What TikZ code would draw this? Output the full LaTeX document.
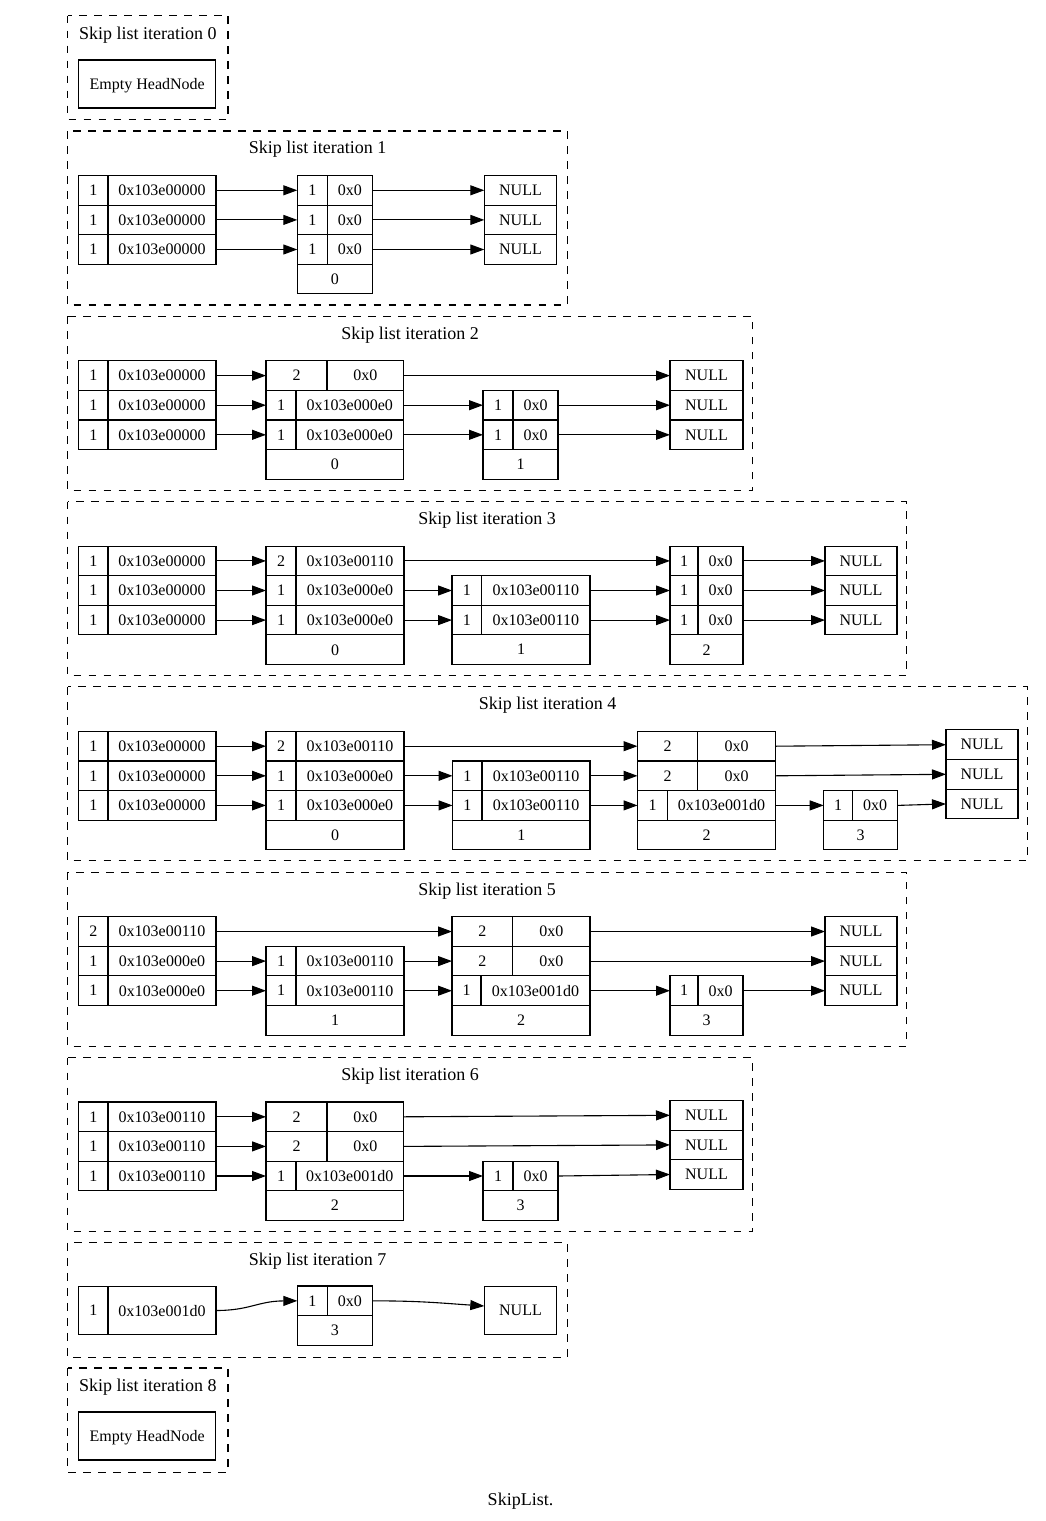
\documentclass[tikz,border=0pt]{standalone}
\usepackage{fontspec}
\setmainfont{Liberation Serif}
\usetikzlibrary{arrows.meta}
\tikzset{
 cellbox/.style={draw, line width=1.1pt, inner sep=0pt, outer sep=0pt, text depth=0pt, font=\fontsize{16}{19}\selectfont},
 clus/.style={draw, line width=1.1pt, dash pattern=on 7.7pt off 7.3pt},
 ttl/.style={anchor=base, inner sep=0pt, font=\fontsize{18}{21}\selectfont},
 lnk/.style={line width=1.1pt, -{Triangle[length=14pt,width=10pt]}}
}
\newcommand\mkc[6]{\node[cellbox,minimum width={#4-#2},minimum height={#5-#3}] (#1) at ({(#2+#4)/2},{(#3+#5)/2}) {#6};}
\newcommand\mkrow[8]{\mkc{#1L}{#2}{#5}{#3}{#6}{#7}\mkc{#1R}{#3}{#5}{#4}{#6}{#8}}
\newcommand\lnkar[2]{\draw[lnk] (#1.east) -- (#2.west);}
\begin{document}
\begin{tikzpicture}[x=1pt,y=-1pt]
\useasboundingbox (0,0) rectangle (1045,1521);
% ---------- iteration 0
\draw[clus] (67.5,15.5) rectangle (228,119.5);
\node[ttl] (t0) at (147.75,39.3) {Skip list iteration 0};
\mkc{e0}{78.8}{60}{215.7}{108}{Empty HeadNode}
% ---------- iteration 1
\draw[clus] (67.5,131) rectangle (567.5,305);
\node[ttl] (t1) at (317.5,153.8) {Skip list iteration 1};
\mkrow{h1a}{78.8}{108}{216}{175.5}{205.1}{1}{0x103e00000}
\mkrow{h1b}{78.8}{108}{216}{205.1}{234.7}{1}{0x103e00000}
\mkrow{h1c}{78.8}{108}{216}{234.7}{264.3}{1}{0x103e00000}
\mkrow{a1a}{297.3}{327.3}{372.3}{175.5}{205.1}{1}{0x0}
\mkrow{a1b}{297.3}{327.3}{372.3}{205.1}{234.7}{1}{0x0}
\mkrow{a1c}{297.3}{327.3}{372.3}{234.7}{264.3}{1}{0x0}
\mkc{a1d}{297.3}{264.3}{372.3}{293.9}{0}
\mkc{z1a}{484.3}{175.5}{556.7}{205.1}{NULL}
\mkc{z1b}{484.3}{205.1}{556.7}{234.7}{NULL}
\mkc{z1c}{484.3}{234.7}{556.7}{264.3}{NULL}
\lnkar{h1aR}{a1aL}\lnkar{h1bR}{a1bL}\lnkar{h1cR}{a1cL}
\lnkar{a1aR}{z1a}\lnkar{a1bR}{z1b}\lnkar{a1cR}{z1c}
% ---------- iteration 2
\draw[clus] (67.5,316.3) rectangle (752.5,490.3);
\node[ttl] (t2) at (410,339.1) {Skip list iteration 2};
\mkrow{h2a}{78.8}{108}{216}{360.8}{390.4}{1}{0x103e00000}
\mkrow{h2b}{78.8}{108}{216}{390.4}{420}{1}{0x103e00000}
\mkrow{h2c}{78.8}{108}{216}{420}{449.6}{1}{0x103e00000}
\mkrow{a2a}{266}{327}{403.5}{360.8}{390.4}{2}{0x0}
\mkrow{a2b}{266}{296}{403.5}{390.4}{420}{1}{0x103e000e0}
\mkrow{a2c}{266}{296}{403.5}{420}{449.6}{1}{0x103e000e0}
\mkc{a2d}{266}{449.6}{403.5}{479.2}{0}
\mkrow{b2b}{483}{513}{558}{390.4}{420}{1}{0x0}
\mkrow{b2c}{483}{513}{558}{420}{449.6}{1}{0x0}
\mkc{b2d}{483}{449.6}{558}{479.2}{1}
\mkc{z2a}{670}{360.8}{743}{390.4}{NULL}
\mkc{z2b}{670}{390.4}{743}{420}{NULL}
\mkc{z2c}{670}{420}{743}{449.6}{NULL}
\lnkar{h2aR}{a2aL}\lnkar{h2bR}{a2bL}\lnkar{h2cR}{a2cL}
\lnkar{a2aR}{z2a}\lnkar{a2bR}{b2bL}\lnkar{a2cR}{b2cL}
\lnkar{b2bR}{z2b}\lnkar{b2cR}{z2c}
% ---------- iteration 3
\draw[clus] (67.5,501.6) rectangle (906.5,675.6);
\node[ttl] (t3) at (487,524.4) {Skip list iteration 3};
\mkrow{h3a}{78.8}{108}{216}{546.1}{575.7}{1}{0x103e00000}
\mkrow{h3b}{78.8}{108}{216}{575.7}{605.3}{1}{0x103e00000}
\mkrow{h3c}{78.8}{108}{216}{605.3}{634.9}{1}{0x103e00000}
\mkrow{a3a}{266}{296}{404}{546.1}{575.7}{2}{0x103e00110}
\mkrow{a3b}{266}{296}{404}{575.7}{605.3}{1}{0x103e000e0}
\mkrow{a3c}{266}{296}{404}{605.3}{634.9}{1}{0x103e000e0}
\mkc{a3d}{266}{634.9}{404}{664.5}{0}
\mkrow{b3b}{452}{481.5}{590}{575.7}{605.3}{1}{0x103e00110}
\mkrow{b3c}{452}{481.5}{590}{605.3}{634.9}{1}{0x103e00110}
\mkc{b3d}{452}{634.9}{590}{664.5}{1}
\mkrow{c3a}{670}{698}{743}{546.1}{575.7}{1}{0x0}
\mkrow{c3b}{670}{698}{743}{575.7}{605.3}{1}{0x0}
\mkrow{c3c}{670}{698}{743}{605.3}{634.9}{1}{0x0}
\mkc{c3d}{670}{634.9}{743}{664.5}{2}
\mkc{z3a}{825}{546.1}{897}{575.7}{NULL}
\mkc{z3b}{825}{575.7}{897}{605.3}{NULL}
\mkc{z3c}{825}{605.3}{897}{634.9}{NULL}
\lnkar{h3aR}{a3aL}\lnkar{h3bR}{a3bL}\lnkar{h3cR}{a3cL}
\lnkar{a3aR}{c3aL}\lnkar{a3bR}{b3bL}\lnkar{a3cR}{b3cL}
\lnkar{b3bR}{c3bL}\lnkar{b3cR}{c3cL}
\lnkar{c3aR}{z3a}\lnkar{c3bR}{z3b}\lnkar{c3cR}{z3c}
% ---------- iteration 4
\draw[clus] (67.5,686.9) rectangle (1027.5,860.9);
\node[ttl] (t4) at (547.5,709.7) {Skip list iteration 4};
\mkrow{h4a}{78.8}{108}{216}{731.4}{761}{1}{0x103e00000}
\mkrow{h4b}{78.8}{108}{216}{761}{790.6}{1}{0x103e00000}
\mkrow{h4c}{78.8}{108}{216}{790.6}{820.2}{1}{0x103e00000}
\mkrow{a4a}{266}{296}{404}{731.4}{761}{2}{0x103e00110}
\mkrow{a4b}{266}{296}{404}{761}{790.6}{1}{0x103e000e0}
\mkrow{a4c}{266}{296}{404}{790.6}{820.2}{1}{0x103e000e0}
\mkc{a4d}{266}{820.2}{404}{849.8}{0}
\mkrow{b4b}{452.5}{482}{590}{761}{790.6}{1}{0x103e00110}
\mkrow{b4c}{452.5}{482}{590}{790.6}{820.2}{1}{0x103e00110}
\mkc{b4d}{452.5}{820.2}{590}{849.8}{1}
\mkrow{c4a}{637.5}{697.5}{775.5}{731.4}{761}{2}{0x0}
\mkrow{c4b}{637.5}{697.5}{775.5}{761}{790.6}{2}{0x0}
\mkrow{c4c}{637.5}{667.5}{775.5}{790.6}{820.2}{1}{0x103e001d0}
\mkc{c4d}{637.5}{820.2}{775.5}{849.8}{2}
\mkrow{d4c}{823.7}{852.5}{897.5}{790.6}{820.2}{1}{0x0}
\mkc{d4d}{823.7}{820.2}{897.5}{849.8}{3}
\mkc{z4a}{946}{729.9}{1018}{759.5}{NULL}
\mkc{z4b}{946}{759.5}{1018}{789.1}{NULL}
\mkc{z4c}{946}{789.1}{1018}{818.7}{NULL}
\lnkar{h4aR}{a4aL}\lnkar{h4bR}{a4bL}\lnkar{h4cR}{a4cL}
\lnkar{a4aR}{c4aL}\lnkar{a4bR}{b4bL}\lnkar{a4cR}{b4cL}
\lnkar{b4bR}{c4bL}\lnkar{b4cR}{c4cL}
\lnkar{c4aR}{z4a}\lnkar{c4bR}{z4b}\lnkar{c4cR}{d4cL}
\lnkar{d4cR}{z4c}
% ---------- iteration 5
\draw[clus] (67.5,872.2) rectangle (906.5,1046.2);
\node[ttl] (t5) at (487,895) {Skip list iteration 5};
\mkrow{h5a}{78.8}{108}{216}{916.7}{946.3}{2}{0x103e00110}
\mkrow{h5b}{78.8}{108}{216}{946.3}{975.9}{1}{0x103e000e0}
\mkrow{h5c}{78.8}{108}{216}{975.9}{1005.5}{1}{0x103e000e0}
\mkrow{b5b}{266}{296}{404}{946.3}{975.9}{1}{0x103e00110}
\mkrow{b5c}{266}{296}{404}{975.9}{1005.5}{1}{0x103e00110}
\mkc{b5d}{266}{1005.5}{404}{1035.1}{1}
\mkrow{c5a}{452}{512.5}{590}{916.7}{946.3}{2}{0x0}
\mkrow{c5b}{452}{512.5}{590}{946.3}{975.9}{2}{0x0}
\mkrow{c5c}{452}{481}{590}{975.9}{1005.5}{1}{0x103e001d0}
\mkc{c5d}{452}{1005.5}{590}{1035.1}{2}
\mkrow{d5c}{670}{698}{743}{975.9}{1005.5}{1}{0x0}
\mkc{d5d}{670}{1005.5}{743}{1035.1}{3}
\mkc{z5a}{825}{916.7}{897}{946.3}{NULL}
\mkc{z5b}{825}{946.3}{897}{975.9}{NULL}
\mkc{z5c}{825}{975.9}{897}{1005.5}{NULL}
\lnkar{h5aR}{c5aL}\lnkar{h5bR}{b5bL}\lnkar{h5cR}{b5cL}
\lnkar{b5bR}{c5bL}\lnkar{b5cR}{c5cL}
\lnkar{c5aR}{z5a}\lnkar{c5bR}{z5b}\lnkar{c5cR}{d5cL}
\lnkar{d5cR}{z5c}
% ---------- iteration 6
\draw[clus] (67.5,1057.5) rectangle (752.5,1231.5);
\node[ttl] (t6) at (410,1080.3) {Skip list iteration 6};
\mkrow{h6a}{78.8}{108}{216}{1102}{1131.6}{1}{0x103e00110}
\mkrow{h6b}{78.8}{108}{216}{1131.6}{1161.2}{1}{0x103e00110}
\mkrow{h6c}{78.8}{108}{216}{1161.2}{1190.8}{1}{0x103e00110}
\mkrow{c6a}{266}{327}{403.5}{1102}{1131.6}{2}{0x0}
\mkrow{c6b}{266}{327}{403.5}{1131.6}{1161.2}{2}{0x0}
\mkrow{c6c}{266}{296}{403.5}{1161.2}{1190.8}{1}{0x103e001d0}
\mkc{c6d}{266}{1190.8}{403.5}{1220.4}{2}
\mkrow{d6c}{483}{513}{558}{1161.2}{1190.8}{1}{0x0}
\mkc{d6d}{483}{1190.8}{558}{1220.4}{3}
\mkc{z6a}{670}{1100.5}{743}{1130.1}{NULL}
\mkc{z6b}{670}{1130.1}{743}{1159.7}{NULL}
\mkc{z6c}{670}{1159.7}{743}{1189.3}{NULL}
\lnkar{h6aR}{c6aL}\lnkar{h6bR}{c6bL}\lnkar{h6cR}{c6cL}
\lnkar{c6aR}{z6a}\lnkar{c6bR}{z6b}\lnkar{c6cR}{d6cL}
\lnkar{d6cR}{z6c}
% ---------- iteration 7
\draw[clus] (67.5,1242.8) rectangle (567.5,1357.3);
\node[ttl] (t7) at (317.5,1265.6) {Skip list iteration 7};
\mkrow{h7}{78.8}{108}{216}{1286.7}{1334.3}{1}{0x103e001d0}
\mkrow{d7a}{297.3}{327.3}{372.3}{1286}{1315.7}{1}{0x0}
\mkc{d7d}{297.3}{1315.7}{372.3}{1345.4}{3}
\mkc{z7}{484.3}{1286.7}{556.7}{1334.3}{NULL}
\draw[lnk] (h7R.east) .. controls (250,1310.5) and (258,1301) .. (d7aL.west);
\draw[lnk] (d7aR.east) .. controls (420,1300.8) and (440,1303) .. ([yshift=4.5pt]z7.west);
% ---------- iteration 8
\draw[clus] (67.5,1368) rectangle (228,1472.3);
\node[ttl] (t8) at (147.75,1391.8) {Skip list iteration 8};
\mkc{e8}{78.8}{1412}{215.7}{1460}{Empty HeadNode}
% ---------- graph label
\node[ttl] (gl) at (520.5,1505) {SkipList.};
\end{tikzpicture}
\end{document}
